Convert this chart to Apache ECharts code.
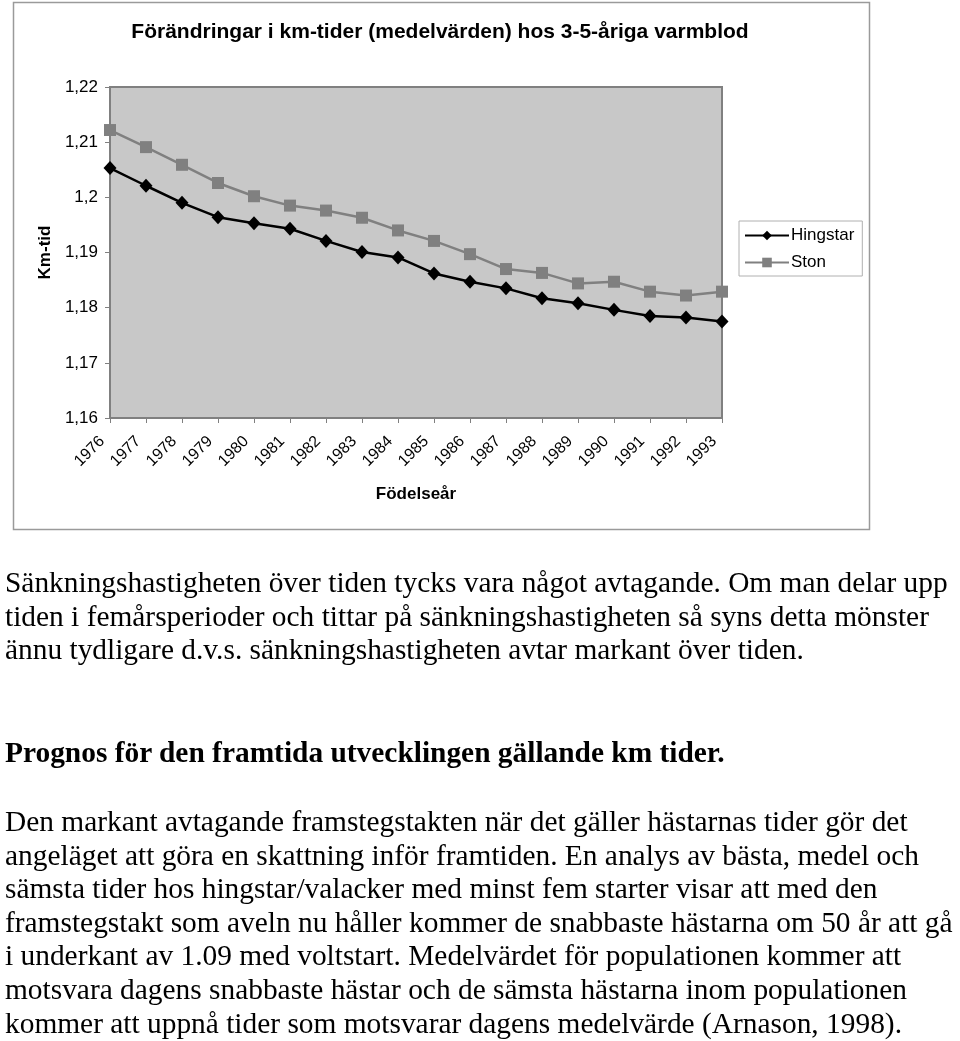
<!DOCTYPE html>
<html>
<head>
<meta charset="utf-8">
<script src="https://cdn.jsdelivr.net/npm/echarts@6/dist/echarts.min.js"></script>
<style>
html,body{margin:0;padding:0;background:#fff;}
#chart{position:absolute;left:0;top:0;width:960px;height:1041px;}
.t{position:absolute;left:5px;font-family:"Liberation Serif","Times New Roman",serif;font-size:29.4px;color:#000;white-space:nowrap;line-height:1;}
.b{font-weight:bold;}
</style>
</head>
<body>
<div id="chart"></div>
<div id="text"></div>
<script>
const years = ['1976','1977','1978','1979','1980','1981','1982','1983','1984','1985','1986','1987','1988','1989','1990','1991','1992','1993'];
const hingstar = [1.2053,1.2021,1.1990,1.1964,1.1953,1.1943,1.1921,1.1901,1.1891,1.1862,1.1847,1.1835,1.1817,1.1808,1.1796,1.1785,1.1782,1.1775];
const ston = [1.2122,1.2091,1.2059,1.2026,1.2002,1.1985,1.1976,1.1963,1.1940,1.1921,1.1897,1.1870,1.1863,1.1844,1.1847,1.1829,1.1822,1.1829];
const yMin = 1.16, yMax = 1.22, yStep = 0.01;

const titleText = 'Förändringar i km-tider (medelvärden) hos 3-5-åriga varmblod';
const paragraphs = [
  {top: 568, bold: false, lines: [
    'Sänkningshastigheten över tiden tycks vara något avtagande. Om man delar upp',
    'tiden i femårsperioder och tittar på sänkningshastigheten så syns detta mönster',
    'ännu tydligare d.v.s. sänkningshastigheten avtar markant över tiden.'
  ]},
  {top: 738, bold: true, lines: ['Prognos för den framtida utvecklingen gällande km tider.']},
  {top: 807, bold: false, lines: [
    'Den markant avtagande framstegstakten när det gäller hästarnas tider gör det',
    'angeläget att göra en skattning inför framtiden. En analys av bästa, medel och',
    'sämsta tider hos hingstar/valacker med minst fem starter visar att med den',
    'framstegstakt som aveln nu håller kommer de snabbaste hästarna om 50 år att gå',
    'i underkant av 1.09 med voltstart. Medelvärdet för populationen kommer att',
    'motsvara dagens snabbaste hästar och de sämsta hästarna inom populationen',
    'kommer att uppnå tider som motsvarar dagens medelvärde (Arnason, 1998).'
  ]}
];

const textBox = document.getElementById('text');
paragraphs.forEach(p => {
  p.lines.forEach((ln, i) => {
    const d = document.createElement('div');
    d.className = 't' + (p.bold ? ' b' : '');
    d.style.top = (p.top + i * 33.6) + 'px';
    d.textContent = ln;
    textBox.appendChild(d);
  });
});

const chart = echarts.init(document.getElementById('chart'), null, {renderer: 'canvas'});
const font = 'Liberation Sans, Arial, sans-serif';
chart.setOption({
  animation: false,
  backgroundColor: '#fff',
  title: {
    text: titleText, left: 435, top: 17, textAlign: 'center',
    textStyle: {fontFamily: font, fontSize: 21, fontWeight: 'bold', color: '#000'}
  },
  graphic: [{
    type: 'rect', left: 11, top: 0, shape: {width: 856, height: 527},
    style: {fill: 'none', stroke: '#9a9a9a', lineWidth: 1.5}, z: -1
  }],
  legend: {
    orient: 'vertical', left: 739, top: 221, width: 123,
    padding: [6, 8, 5, 5], itemGap: 10, itemWidth: 44, itemHeight: 12,
    borderColor: '#b0b0b0', borderWidth: 1, backgroundColor: '#fff',
    textStyle: {fontFamily: font, fontSize: 17, color: '#000', padding: [0,0,0,-3]},
    data: ['Hingstar', 'Ston']
  },
  grid: {
    left: 110, top: 87, right: 238, bottom: 623, show: true,
    backgroundColor: '#c8c8c8', borderColor: '#808080', borderWidth: 2
  },
  xAxis: {
    type: 'category', data: years, boundaryGap: false,
    name: 'Födelseår', nameLocation: 'middle', nameGap: 68,
    nameTextStyle: {fontFamily: font, fontSize: 17, fontWeight: 'bold', color: '#000'},
    axisLine: {lineStyle: {color: '#808080', width: 2}},
    axisTick: {lineStyle: {color: '#808080'}, length: 5},
    axisLabel: {rotate: 45, fontFamily: font, fontSize: 16, color: '#000', margin: 13, padding: [0, 11, 0, 0]},
    splitLine: {show: false}
  },
  yAxis: {
    type: 'value', min: yMin, max: yMax, interval: yStep,
    name: 'Km-tid', nameLocation: 'middle', nameGap: 55, nameRotate: 90,
    nameTextStyle: {fontFamily: font, fontSize: 17, fontWeight: 'bold', color: '#000'},
    axisLine: {show: true, lineStyle: {color: '#808080', width: 2}},
    axisTick: {show: true, lineStyle: {color: '#808080'}, length: 5},
    axisLabel: {fontFamily: font, fontSize: 17, color: '#000', margin: 12,
      formatter: v => String(Math.round(v * 100) / 100).replace('.', ',')},
    splitLine: {show: false}
  },
  series: [
    {name: 'Hingstar', type: 'line', data: hingstar, symbol: 'diamond', symbolSize: [13, 14],
      itemStyle: {color: '#000'}, lineStyle: {color: '#000', width: 2.5}},
    {name: 'Ston', type: 'line', data: ston, symbol: 'rect', symbolSize: 12,
      itemStyle: {color: '#808080'}, lineStyle: {color: '#808080', width: 2.5}}
  ]
});
</script>
</body>
</html>
